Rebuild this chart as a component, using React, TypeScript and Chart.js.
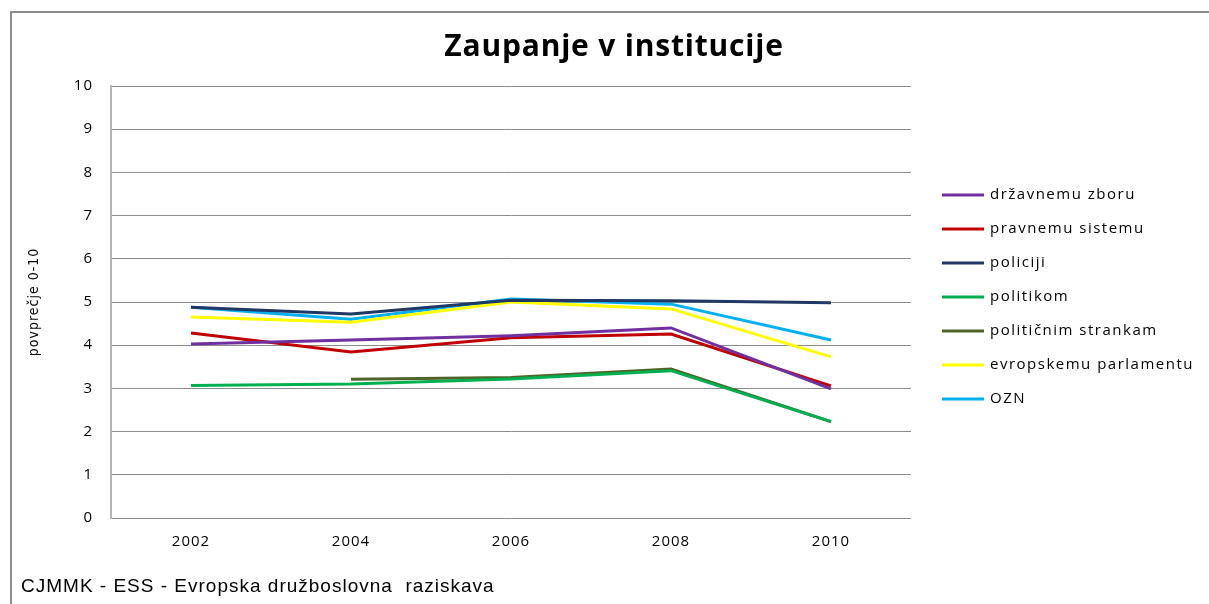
import React, { useEffect, useRef } from "react";
import { Chart, registerables } from "chart.js";

Chart.register(...registerables);

const years = ["2002", "2004", "2006", "2008", "2010"];
const seriesNames = [
  "državnemu zboru",
  "pravnemu sistemu",
  "policiji",
  "politikom",
  "političnim strankam",
  "evropskemu parlamentu",
  "OZN",
];
const drzavnemuZboru = [4.03, 4.12, 4.22, 4.4, 2.99];
const pravnemuSistemu = [4.28, 3.84, 4.17, 4.26, 3.06];
const policiji = [4.88, 4.72, 5.04, 5.03, 4.98];
const politikom = [3.07, 3.1, 3.22, 3.41, 2.23];
const politicnimStrankam = [null, 3.21, 3.25, 3.45, 2.23];
const evropskemuParlamentu = [4.65, 4.53, 5.0, 4.84, 3.73];
const ozn = [4.88, 4.6, 5.07, 4.95, 4.12];
const seriesColors = ["#7030A0", "#C00000", "#1F3864", "#00B050", "#4F6228", "#FFFF00", "#00B0F0"];
const yTicks = [0, 1, 2, 3, 4, 5, 6, 7, 8, 9, 10];
const titleText = "Zaupanje v institucije";
const yTitle = "povprečje 0-10";
const footerText = "CJMMK - ESS - Evropska družboslovna  raziskava";

const W = 1209;
const H = 604;

export default function App() {
  const ref = useRef<HTMLCanvasElement | null>(null);
  useEffect(() => {
    const canvas = ref.current;
    if (!canvas) return;
    const allValues = [drzavnemuZboru, pravnemuSistemu, policiji, politikom, politicnimStrankam, evropskemuParlamentu, ozn];
    const decorPlugin = {
      id: "decor",
      beforeDraw(chart: any) {
        const ctx = chart.ctx;
        ctx.save();
        ctx.fillStyle = "#ffffff";
        ctx.fillRect(0, 0, W, H);
        ctx.strokeStyle = "#8c8c8c";
        ctx.lineWidth = 2;
        ctx.strokeRect(11, 12, W + 50, H + 50);
        ctx.restore();
        ctx.letterSpacing = "1px";
      },
      afterDraw(chart: any) {
        const ctx = chart.ctx;
        ctx.save();
        // title
        ctx.letterSpacing = "0.8px";
        ctx.font = "bold 30px 'Open Sans'";
        ctx.textBaseline = "middle";
        ctx.textAlign = "center";
        ctx.fillStyle = "#000000";
        ctx.fillText(titleText, 614, 47);
        // legend
        ctx.letterSpacing = "1.5px";
        ctx.font = "15px 'Open Sans'";
        ctx.textBaseline = "middle";
        ctx.textAlign = "left";
        const x0 = 942;
        const y0 = 195;
        const step = 34;
        chart.data.datasets.forEach((ds: any, i: number) => {
          const y = y0 + i * step;
          ctx.strokeStyle = ds.borderColor;
          ctx.lineWidth = 3;
          ctx.beginPath();
          ctx.moveTo(x0, y);
          ctx.lineTo(x0 + 42, y);
          ctx.stroke();
          ctx.fillStyle = "#000000";
          ctx.fillText(ds.label, x0 + 48, y);
        });
        // footer
        ctx.letterSpacing = "1px";
        ctx.font = "19px 'Liberation Sans'";
        ctx.textBaseline = "alphabetic";
        ctx.fillText(footerText, 21, 592);
        ctx.restore();
        ctx.letterSpacing = "0px";
      },
    };
    const chart = new Chart(canvas, {
      type: "line",
      data: {
        labels: years,
        datasets: seriesNames.map((name, i) => ({
          label: name,
          data: allValues[i],
          borderColor: seriesColors[i],
          backgroundColor: seriesColors[i],
          borderWidth: 3,
          pointRadius: 0,
          tension: 0,
          spanGaps: false,
        })),
      },
      options: {
        responsive: false,
        animation: false,
        devicePixelRatio: 1,
        layout: { padding: { left: 0, top: 86, right: W - 911, bottom: 0 } },
        plugins: {
          legend: { display: false },
          tooltip: { enabled: false },
          title: { display: false },
        },
        scales: {
          x: {
            type: "category",
            offset: true,
            grid: { display: false, drawTicks: false },
            border: { display: false },
            ticks: { color: "#000000", padding: 15, font: { family: "'Open Sans'", size: 15 } },
            afterFit: (s: any) => {
              s.height = H - 518;
            },
          },
          y: {
            min: 0,
            max: 10,
            afterBuildTicks: (s: any) => {
              s.ticks = yTicks.map((v) => ({ value: v }));
            },
            grid: { color: "#8c8c8c", lineWidth: 1, drawTicks: false },
            border: { display: true, color: "#b4b4b4", width: 2 },
            ticks: { color: "#000000", padding: 18, font: { family: "'Open Sans'", size: 15 } },
            title: {
              display: true,
              text: yTitle,
              color: "#000000",
              font: { family: "'Liberation Sans Narrow', 'DejaVu Sans Condensed', 'Roboto', sans-serif", size: 14 },
              padding: { top: 26, bottom: 0 },
            },
            afterFit: (s: any) => {
              s.width = 111;
            },
          },
        },
      },
      plugins: [decorPlugin],
    } as any);
    return () => chart.destroy();
  }, []);
  return (
    <div style={{ position: "absolute", left: 0, top: 0, width: W, height: H }}>
      <canvas ref={ref} width={W} height={H} style={{ width: W, height: H, display: "block" }} />
    </div>
  );
}
